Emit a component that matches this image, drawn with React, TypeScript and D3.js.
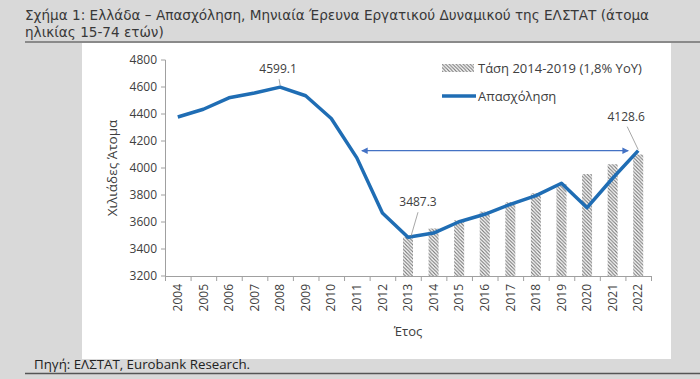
import React from "react";
import * as d3 from "d3";

const years = ["2004","2005","2006","2007","2008","2009","2010","2011","2012","2013","2014","2015","2016","2017","2018","2019","2020","2021","2022"];
const employment = [4378, 4435, 4520, 4556, 4599.1, 4535, 4367, 4075, 3667, 3487.3, 3518, 3602, 3657, 3731, 3795, 3887, 3706, 3924, 4128.6];
const trendYears = ["2013","2014","2015","2016","2017","2018","2019","2020","2021","2022"];
const trendValues = [3487, 3552, 3613, 3677, 3746, 3813, 3880, 3955, 4028, 4100];
const yTicks = [3200, 3400, 3600, 3800, 4000, 4200, 4400, 4600, 4800];
const annotations = [
  { year: "2008", value: 4599.1, label: "4599.1" },
  { year: "2013", value: 3487.3, label: "3487.3" },
  { year: "2022", value: 4128.6, label: "4128.6" },
];
const arrowFrom = "2011";
const arrowTo = "2022";
const arrowValue = 4128.6;

const title1 = "Σχήμα 1: Ελλάδα – Απασχόληση, Μηνιαία Έρευνα Εργατικού Δυναμικού της ΕΛΣΤΑΤ (άτομα";
const title2 = "ηλικίας 15-74 ετών)";
const source = "Πηγή: ΕΛΣΤΑΤ, Eurobank Research.";
const legendTrend = "Τάση 2014-2019 (1,8% YoY)";
const legendLine = "Απασχόληση";
const xTitle = "Έτος";
const yTitle = "Χιλιάδες Άτομα";

const FONT = "'Open Sans', 'Noto Sans', sans-serif";
const TFONT = "'DejaVu Sans', sans-serif";
const LINE = "#1f6db4";
const TXT = "#404040";
const AXIS = "#a0a0a0";

export default function App() {
  const W = 700, H = 379;
  const x = d3.scaleBand<string>().domain(years).range([165, 651]).padding(0);
  const y = d3.scaleLinear().domain([3200, 4800]).range([276, 60]);
  const cx = (yr: string) => (x(yr) as number) + x.bandwidth() / 2;
  const line = d3.line<number>().x((_, i) => cx(years[i])).y((d) => y(d));
  const barW = 10;
  const boundaries = years.map((yr) => x(yr) as number).concat([651]);

  const ann = [
    { dx: -2, dy: -18, lx1: -1, ly1: -8, lx2: 0, ly2: -2 },
    { dx: 10, dy: -35.5, lx1: 10, ly1: -25, lx2: 3, ly2: -1 },
    { dx: -12, dy: -34, lx1: -11, ly1: -24, lx2: 0, ly2: -1 },
  ];

  return (
    <svg width={W} height={H} style={{ position: "absolute", left: 0, top: 0 }} fontFamily={FONT}>
      <defs>
        <pattern id="hatch" patternUnits="userSpaceOnUse" width="3.5" height="3.5">
          <rect width="3.5" height="3.5" fill="#ffffff" />
          <path d="M-1,-1 L4.5,4.5 M-1,2.5 L1,4.5 M2.5,-1 L4.5,1" stroke="#7a7a7a" strokeWidth="1.1" />
        </pattern>
        <marker id="arrowHead" viewBox="0 0 10 10" refX="9" refY="5" markerWidth="5" markerHeight="5" orient="auto-start-reverse">
          <path d="M0,0 L10,5 L0,10 z" fill="#4472c4" />
        </marker>
      </defs>
      <rect x={0} y={0} width={W} height={H} fill="#d9d9d9" />
      <rect x={82} y={43} width={589} height={316} fill="#ffffff" />
      <line x1={25} x2={700} y1={42} y2={42} stroke="#8a8a8a" strokeWidth={2} />
      <line x1={25} x2={700} y1={373.5} y2={373.5} stroke="#555" strokeWidth={1.5} />
      <text x={25} y={20} fontSize={13.6} fontFamily={TFONT} fill="#383838">{title1}</text>
      <text x={25} y={36.5} fontSize={13.6} fontFamily={TFONT} fill="#383838">{title2}</text>
      <text x={34} y={369} fontSize={13.3} fill="#222">{source}</text>

      {/* bars */}
      {trendYears.map((yr, i) => (
        <rect key={yr} x={cx(yr) - barW / 2} y={y(trendValues[i])} width={barW} height={276 - y(trendValues[i])} fill="url(#hatch)" />
      ))}

      {/* axes */}
      <line x1={165.5} x2={165.5} y1={60} y2={276} stroke={AXIS} strokeWidth={1} />
      {yTicks.map((t) => (
        <g key={t}>
          <line x1={161} x2={165.5} y1={y(t)} y2={y(t)} stroke={AXIS} />
          <text x={157} y={y(t)} dy="0.35em" textAnchor="end" fontSize={12} fill={TXT}>{t}</text>
        </g>
      ))}
      <line x1={165} x2={651} y1={276.5} y2={276.5} stroke={AXIS} strokeWidth={1} />
      {boundaries.map((b, i) => (
        <line key={i} x1={b + 0.5} x2={b + 0.5} y1={276} y2={281} stroke={AXIS} />
      ))}
      {years.map((yr) => (
        <text key={yr} transform={`translate(${cx(yr)},284) rotate(-90)`} dy="0.35em" textAnchor="end" fontSize={12} fill={TXT}>{yr}</text>
      ))}
      <text x={408} y={336} textAnchor="middle" fontSize={13} fill={TXT}>{xTitle}</text>
      <text transform="translate(112,168) rotate(-90)" dy="0.35em" textAnchor="middle" fontSize={13.5} fill={TXT}>{yTitle}</text>

      {/* arrow */}
      <line x1={cx(arrowFrom) + 5} x2={cx(arrowTo) - 10} y1={y(arrowValue)} y2={y(arrowValue)} stroke="#4472c4" strokeWidth={1.3}
        markerStart="url(#arrowHead)" markerEnd="url(#arrowHead)" />

      {/* line */}
      <path d={line(employment) || ""} fill="none" stroke={LINE} strokeWidth={3.5} strokeLinejoin="round" />

      {/* annotations */}
      {annotations.map((a, i) => {
        const px = cx(a.year), py = y(a.value);
        const o = ann[i];
        return (
          <g key={a.label}>
            <line x1={px + o.lx1} y1={py + o.ly1} x2={px + o.lx2} y2={py + o.ly2} stroke="#909090" strokeWidth={0.8} />
            <text x={px + o.dx} y={py + o.dy} textAnchor="middle" dy="0.35em" fontSize={12} fill={TXT}>{a.label}</text>
          </g>
        );
      })}

      {/* legend */}
      <rect x={442} y={64} width={32} height={8} fill="url(#hatch)" />
      <text x={478} y={68} dy="0.35em" fontSize={13} fill={TXT}>{legendTrend}</text>
      <line x1={442} x2={476} y1={96} y2={96} stroke={LINE} strokeWidth={3.5} />
      <text x={478} y={96} dy="0.35em" fontSize={13} fill={TXT}>{legendLine}</text>
    </svg>
  );
}
